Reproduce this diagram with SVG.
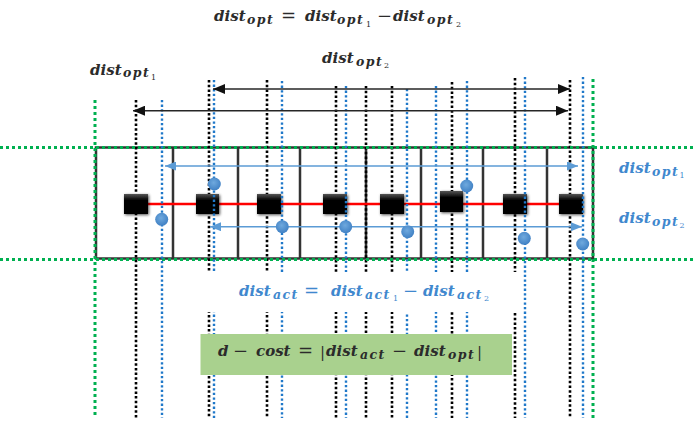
<svg xmlns="http://www.w3.org/2000/svg" width="694" height="423" viewBox="0 0 694 423">
  <style>
    .frame { fill: none; stroke: #333; stroke-width: 2.5; }
    .div { stroke: #333; stroke-width: 2.5; }
    .gk { stroke: #000; stroke-width: 2.6; stroke-dasharray: 2.5 2.2; fill: none; }
    .gb { stroke: #1f78c9; stroke-width: 2.4; stroke-dasharray: 2.3 2.3; fill: none; }
    .gg { stroke: #00b050; stroke-width: 3; stroke-dasharray: 3 3; fill: none; }
    .arrK { stroke: #262626; stroke-width: 1.6; fill: none; marker-start: url(#headK); marker-end: url(#headK); }
    .arrB { stroke: #5b9bd5; stroke-width: 1.5; fill: none; marker-start: url(#headB); marker-end: url(#headB); }
    .m { font-family: "DejaVu Serif", "Liberation Serif", serif; font-style: italic; font-weight: bold; }
    .dk { fill: #2b2b2b; }
    .bl { fill: #3f88ce; }
    .big { font-size: 15px; }
    .sub { font-size: 12.5px; letter-spacing: 1.4px; }
    .ssub { font-size: 8px; }
    .op { font-size: 18px; font-style: normal; font-weight: normal; }
    .up { font-style: normal; font-weight: normal; }
  </style>
  <defs>
    <marker id="headK" viewBox="0 0 12 10" refX="12" refY="5" markerWidth="12" markerHeight="10" markerUnits="userSpaceOnUse" orient="auto-start-reverse">
      <path d="M0,0 L12,5 L0,10 Z" fill="#111"/>
    </marker>
    <marker id="headB" viewBox="0 0 11 9" refX="11" refY="4.5" markerWidth="11" markerHeight="9" markerUnits="userSpaceOnUse" orient="auto-start-reverse">
      <path d="M0,0 L11,4.5 L0,9 Z" fill="#5b9bd5"/>
    </marker>
    <linearGradient id="cube" x1="0" y1="0" x2="0" y2="1">
      <stop offset="0" stop-color="#555"/>
      <stop offset="0.3" stop-color="#050505"/>
      <stop offset="1" stop-color="#000"/>
    </linearGradient>
    <radialGradient id="dot" cx="0.45" cy="0.4" r="0.6">
      <stop offset="0" stop-color="#6fa9de"/>
      <stop offset="1" stop-color="#4181c4"/>
    </radialGradient>
    <filter id="soft" x="-40%" y="-40%" width="180%" height="180%">
      <feGaussianBlur in="SourceAlpha" stdDeviation="1.6"/>
      <feOffset dx="0.5" dy="1" result="b"/>
      <feComponentTransfer><feFuncA type="linear" slope="0.7"/></feComponentTransfer>
      <feMerge><feMergeNode/><feMergeNode in="SourceGraphic"/></feMerge>
    </filter>
  </defs>

  <rect width="694" height="423" fill="#fff"/>

  <!-- track frame split into eight cells -->
  <g id="frame">
    <rect class="frame" x="96" y="147.5" width="497" height="111"/>
    <path class="div" d="M173,147.5V258.5 M238,147.5V258.5 M300,147.5V258.5 M366,147.5V258.5 M421,147.5V258.5 M483,147.5V258.5 M547,147.5V258.5"/>
  </g>

  <!-- optimal positions (black guides) -->
  <g id="guides-opt">
    <path class="gk" d="M136,100V418 M209,80V418 M267,80V418 M336,86V418 M366,86V418 M392,86V418 M452,82V418 M515,78V418 M570,80V418"/>
  </g>

  <!-- boundary guides -->
  <g id="guides-bound">
    <path class="gg" d="M95,100V418 M593,79V418 M0,147.5H694 M0,259.5H694"/>
  </g>

  <!-- chain of blocks -->
  <g id="chain">
    <line x1="136" y1="204" x2="571" y2="204" stroke="#ff0000" stroke-width="2.6"/>
    <g filter="url(#soft)" fill="url(#cube)">
      <rect id="b1" x="124" y="194" width="24" height="20"/>
      <rect id="b2" x="196" y="194" width="23" height="20"/>
      <rect id="b3" x="257" y="194" width="24" height="20"/>
      <rect id="b4" x="323" y="194" width="24" height="20"/>
      <rect id="b5" x="380" y="194" width="24" height="20"/>
      <rect id="b6" x="440" y="191" width="23" height="21"/>
      <rect id="b7" x="503" y="194" width="24" height="20"/>
      <rect id="b8" x="559" y="194" width="24" height="20"/>
    </g>
  </g>

  <!-- actual positions (blue guides) -->
  <g id="guides-act">
    <path class="gb" d="M162,100V418 M214,80V418 M282,81V418 M346,86V418 M407,89V418 M436,86V418 M467,81V418 M525,77V418 M583,77V418"/>
  </g>

  <!-- connectors -->
  <g id="connectors">
    <path class="arrK" d="M213,89H570"/>
    <path class="arrK" d="M133,110.7H568"/>
    <path class="arrB" d="M165,166H578"/>
    <path class="arrB" d="M210,226.7H582"/>
  </g>

  <!-- measured points -->
  <g id="points" fill="url(#dot)">
    <circle cx="161.7" cy="219.3" r="6.5"/>
    <circle cx="214.3" cy="184" r="6.5"/>
    <circle cx="282.3" cy="226.7" r="6.5"/>
    <circle cx="345.7" cy="226.7" r="6.5"/>
    <circle cx="407.7" cy="231.7" r="6.5"/>
    <circle cx="466.7" cy="186" r="6.5"/>
    <circle cx="524.3" cy="238.3" r="6.5"/>
    <circle cx="582.7" cy="244" r="6.5"/>
  </g>

  <!-- top formula -->
  <g id="eq-opt">
    <text class="m dk"><tspan class="big" x="214" y="21">dist</tspan><tspan class="sub" x="247" y="24">opt</tspan><tspan class="op" x="281" y="22">=</tspan><tspan class="big" x="305" y="21">dist</tspan><tspan class="sub" x="337" y="24">opt</tspan><tspan class="ssub up" x="366" y="27">1</tspan><tspan class="op" x="377" y="22">−</tspan><tspan class="big" x="393" y="21">dist</tspan><tspan class="sub" x="427" y="24">opt</tspan><tspan class="ssub up" x="456" y="27">2</tspan></text>
  </g>

  <g id="label-opt1">
    <text class="m dk"><tspan class="big" x="90" y="74.5">dist</tspan><tspan class="sub" x="123" y="77">opt</tspan><tspan class="ssub up" x="151" y="80">1</tspan></text>
  </g>
  <g id="label-opt2">
    <text class="m dk"><tspan class="big" x="322" y="63">dist</tspan><tspan class="sub" x="356" y="65.5">opt</tspan><tspan class="ssub up" x="384" y="68">2</tspan></text>
  </g>

  <g id="label-opt1-blue">
    <text class="m bl"><tspan class="big" x="619" y="173">dist</tspan><tspan class="sub" x="652" y="175.5">opt</tspan><tspan class="ssub up" x="679.5" y="178">1</tspan></text>
  </g>
  <g id="label-opt2-blue">
    <text class="m bl"><tspan class="big" x="619" y="223">dist</tspan><tspan class="sub" x="652" y="225.5">opt</tspan><tspan class="ssub up" x="679.5" y="228">2</tspan></text>
  </g>

  <!-- actual distance formula -->
  <g id="eq-act">
    <rect x="190" y="272" width="331" height="40" fill="#fff"/>
    <text class="m bl"><tspan class="big" x="239" y="296">dist</tspan><tspan class="sub" x="273" y="298.5">act</tspan><tspan class="op" x="304" y="297">=</tspan><tspan class="big" x="331" y="296">dist</tspan><tspan class="sub" x="365" y="298.5">act</tspan><tspan class="ssub up" x="393" y="301">1</tspan><tspan class="op" x="403" y="297">−</tspan><tspan class="big" x="423" y="296">dist</tspan><tspan class="sub" x="457" y="298.5">act</tspan><tspan class="ssub up" x="484" y="301">2</tspan></text>
  </g>

  <!-- cost formula -->
  <g id="eq-cost">
    <rect x="200.5" y="334" width="311.5" height="41" fill="#a9d18e"/>
    <text class="m dk"><tspan class="big" x="218" y="356">d</tspan><tspan class="op" x="233" y="357">−</tspan><tspan class="big" x="256" y="356">cost</tspan><tspan class="op" x="298" y="357">=</tspan><tspan class="big up" x="320" y="357">|</tspan><tspan class="big" x="326" y="356">dist</tspan><tspan class="sub" x="360" y="358.5">act</tspan><tspan class="op" x="392" y="357">−</tspan><tspan class="big" x="414" y="356">dist</tspan><tspan class="sub" x="448" y="358.5">opt</tspan><tspan class="big up" x="477" y="357">|</tspan></text>
  </g>
</svg>
